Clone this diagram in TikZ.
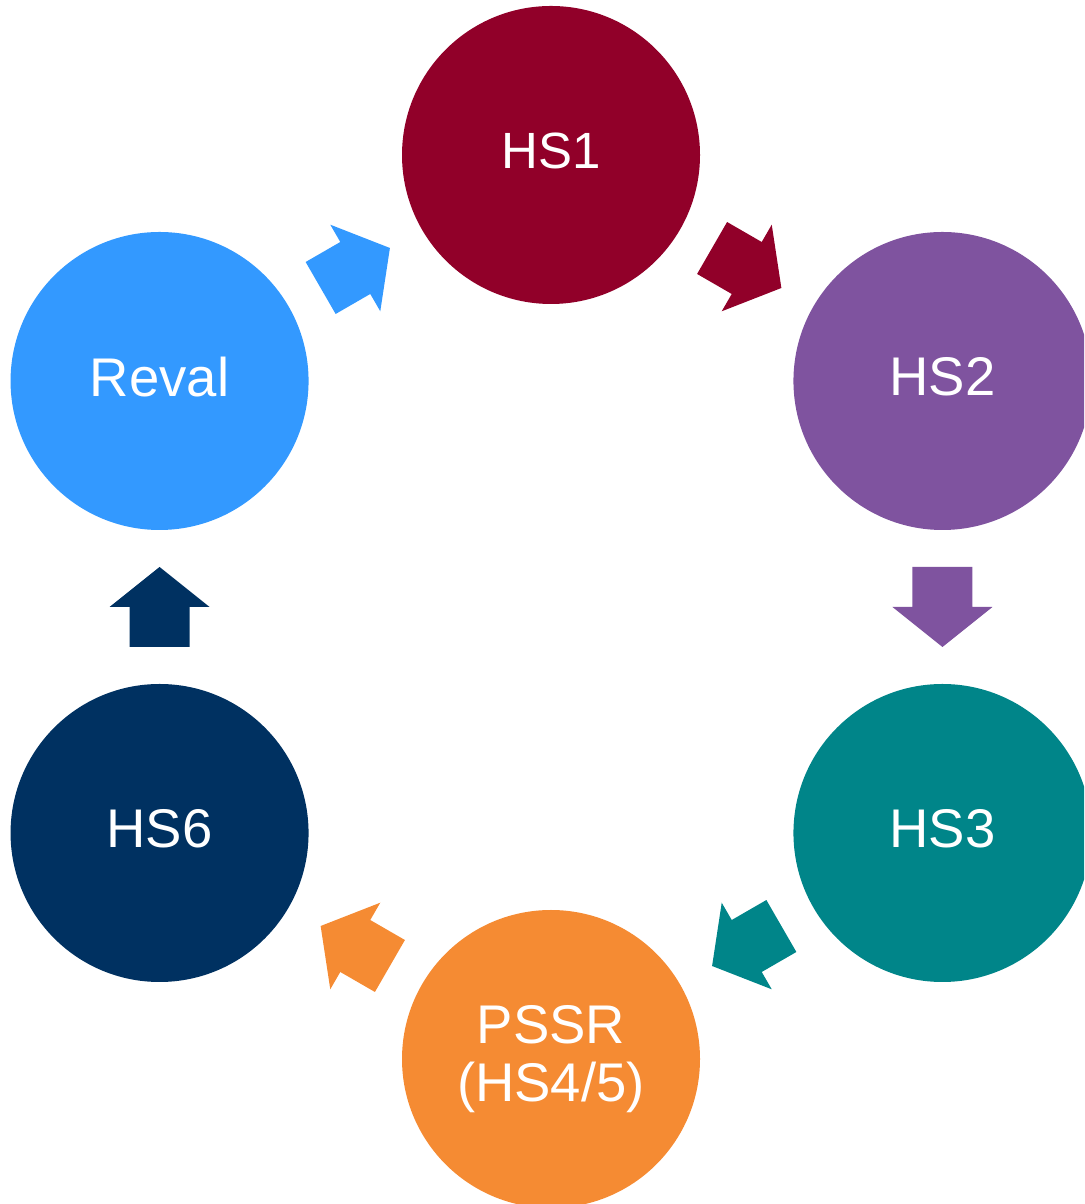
\documentclass[tikz,border=0pt]{standalone}
\usepackage{fontspec}
\setmainfont{Liberation Sans}
\usepackage{xcolor}
\definecolor{hsone}{HTML}{910029}
\definecolor{hstwo}{HTML}{7F539F}
\definecolor{hsthree}{HTML}{008589}
\definecolor{pssr}{HTML}{F58B33}
\definecolor{hssix}{HTML}{003161}
\definecolor{reval}{HTML}{3399FF}
\tikzset{stage/.style={circle,minimum size=5.96cm,inner sep=0pt,text=white,align=center,
                       font=\fontsize{31}{33}\selectfont,text depth=5pt},
         pics/blockarrow/.style={code={
             \fill[#1] (-0.8,-0.6) -- (0,-0.6) -- (0,-1) -- (0.8,0) -- (0,1) -- (0,0.6) -- (-0.8,0.6) -- cycle;}},
         }

\begin{document}
\begin{tikzpicture}
\useasboundingbox (0,0) rectangle (21.68,24.08);
\clip (0,0) rectangle (21.68,24.08);
\begin{scope}[shift={(11.02,11.94)}]
\node[stage,fill=hsone,font=\fontsize{29}{31}\selectfont] (hs1) at (90:9.04) {HS1};
\node[stage,fill=hstwo] (hs2) at (30:9.04) {HS2};
\node[stage,fill=hsthree] (hs3) at (-30:9.04) {HS3};
\node[stage,fill=pssr,text depth=] (hs45) at (-90:9.04) {PSSR\\(HS4/5)};
\node[stage,fill=hssix] (hs6) at (210:9.04) {HS6};
\node[stage,fill=reval] (rev) at (150:9.04) {Reval};
\end{scope}
% arrows between the stages
\path (rev) -- (hs1) pic[pos=.5,sloped,allow upside down]{blockarrow=reval};
\path (hs1) -- (hs2) pic[pos=.5,sloped,allow upside down]{blockarrow=hsone};
\path (hs2) -- (hs3) pic[pos=.5,sloped,allow upside down]{blockarrow=hstwo};
\path (hs3) -- (hs45) pic[pos=.5,sloped,allow upside down]{blockarrow=hsthree};
\path (hs45) -- (hs6) pic[pos=.5,sloped,allow upside down]{blockarrow=pssr};
\path (hs6) -- (rev) pic[pos=.5,sloped,allow upside down]{blockarrow=hssix};
\end{tikzpicture}
\end{document}
